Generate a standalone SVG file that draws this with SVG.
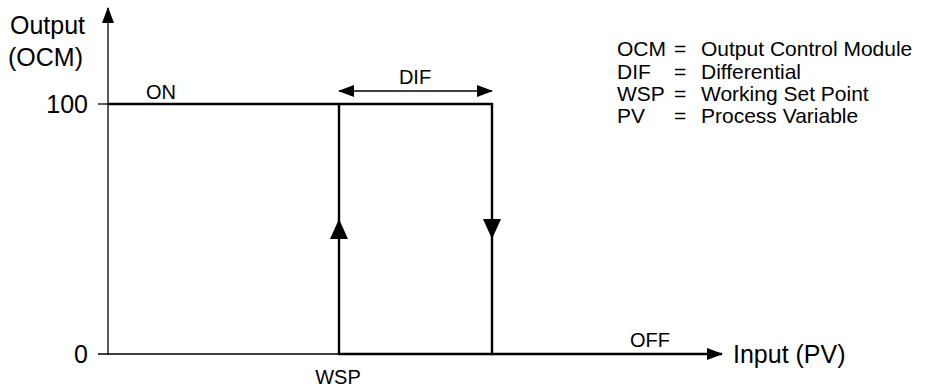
<svg xmlns="http://www.w3.org/2000/svg" width="926" height="389" viewBox="0 0 926 389">
<style>
text{font-family:"Liberation Sans",Arial,sans-serif;fill:#000}
.big{font-size:25px}
.sm{font-size:20px}
.lg{font-size:21px}
.thin{stroke:#000;stroke-width:1.3;fill:none}
.thick{stroke:#000;stroke-width:2.4;fill:none}
</style>
<defs>
<marker id="ah" markerWidth="16" markerHeight="12" refX="15" refY="6" orient="auto-start-reverse" markerUnits="userSpaceOnUse">
<path d="M0,0 L16,6 L0,12 Z" fill="#000"/>
</marker>
</defs>
<g id="axes">
<line class="thin" x1="108" y1="355" x2="108" y2="8" marker-end="url(#ah)"/>
<line class="thin" x1="98" y1="104" x2="108" y2="104"/>
<line class="thin" x1="98" y1="354" x2="339" y2="354"/>
<line class="thick" x1="492" y1="354" x2="722" y2="354" marker-end="url(#ah)"/>
</g>
<g id="connectors">
<path class="thick" d="M108,104 H339 V354 H492 V104 H339"/>
<line class="thin" x1="339" y1="91" x2="492" y2="91" marker-start="url(#ah)" marker-end="url(#ah)"/>
<path d="M339,219 L348,239 L330,239 Z" fill="#000"/>
<path d="M492,239 L483,219 L501,219 Z" fill="#000"/>
</g>
<g id="labels">
<text class="big" x="10" y="34">Output</text>
<text class="big" x="8" y="66">(OCM)</text>
<text class="big" x="88" y="113" text-anchor="end">100</text>
<text class="big" x="88" y="363" text-anchor="end">0</text>
<text class="sm" x="146" y="99">ON</text>
<text class="sm" x="415" y="84" text-anchor="middle">DIF</text>
<text class="sm" x="338" y="384" text-anchor="middle">WSP</text>
<text class="sm" x="630" y="347">OFF</text>
<text class="big" x="733" y="363">Input (PV)</text>
</g>
<g id="legend">
<text class="lg" x="617" y="56">OCM</text><text class="lg" x="674" y="56">=</text><text class="lg" x="701" y="56">Output Control Module</text>
<text class="lg" x="617" y="79">DIF</text><text class="lg" x="674" y="79">=</text><text class="lg" x="701" y="79">Differential</text>
<text class="lg" x="617" y="101">WSP</text><text class="lg" x="674" y="101">=</text><text class="lg" x="701" y="101">Working Set Point</text>
<text class="lg" x="617" y="123">PV</text><text class="lg" x="674" y="123">=</text><text class="lg" x="701" y="123">Process Variable</text>
</g>
</svg>
